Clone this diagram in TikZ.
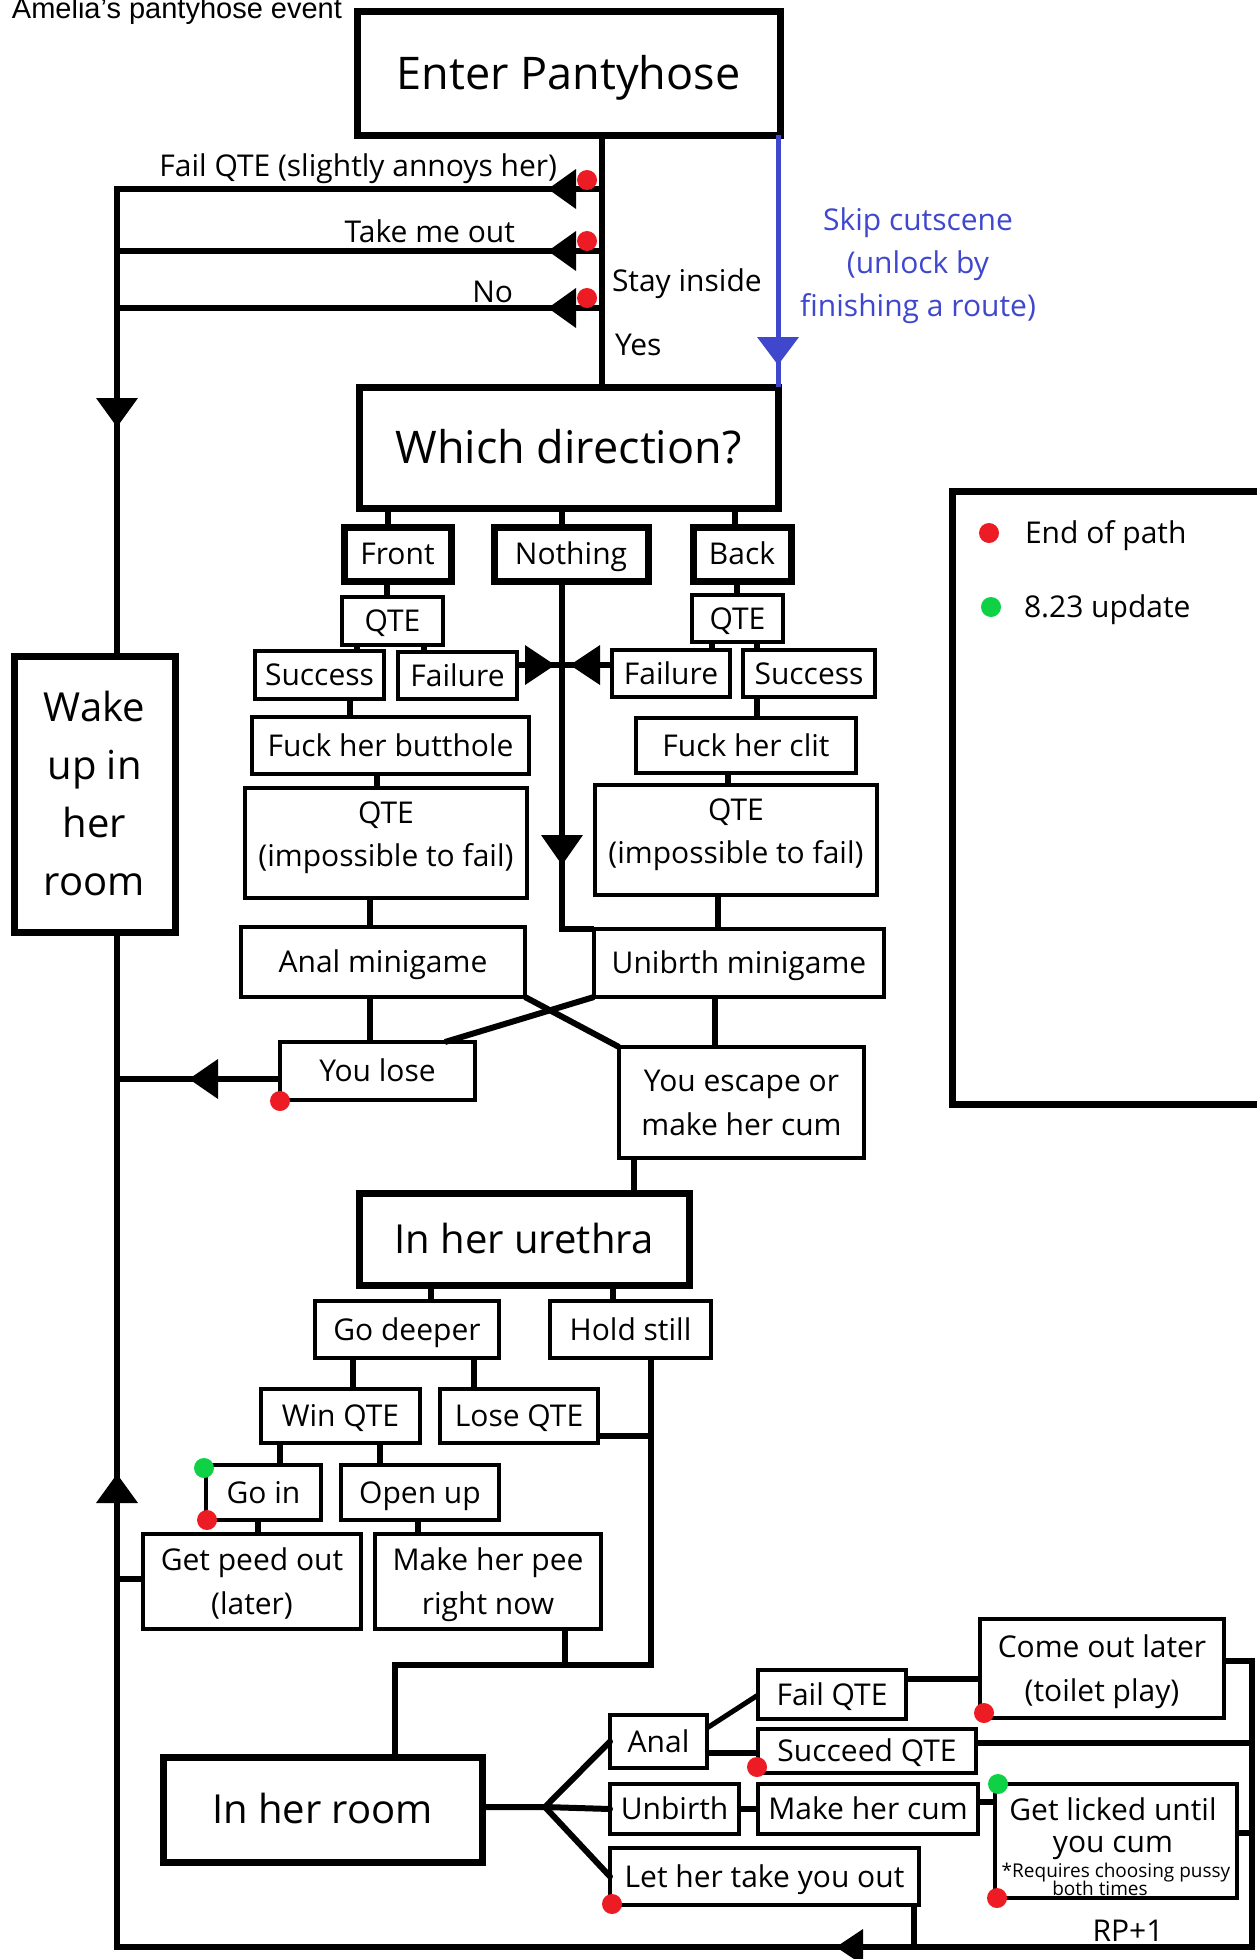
\documentclass[tikz,border=0pt]{standalone}
\usepackage{fontspec}
\setmainfont{Open Sans}
\newfontfamily\titlefont{Liberation Sans}
\usetikzlibrary{calc}
\definecolor{dotred}{HTML}{ED1C24}
\definecolor{dotgreen}{HTML}{0ED145}
\definecolor{skipblue}{HTML}{3F48CC}
\newcommand{\bx}[7]{\node[#6, minimum width={(#4)-(#2)}, minimum height={(#5)-(#3)}] (#1) at ({((#2)+(#4))/2},{((#3)+(#5))/2}) {#7};}
\tikzset{
  box/.style={draw, line width=4pt, fill=white, inner sep=0pt, outer sep=0pt, align=center,
              text height=21.4pt, text depth=0pt, font=\fontsize{30}{44}\selectfont},
  tbox/.style={box, line width=7pt},
  f45/.style={font=\fontsize{45}{54}\selectfont, text height=32pt},
  f40/.style={font=\fontsize{40}{58}\selectfont, text height=28.6pt},
  two/.style={text height=65.4pt},
  ln/.style={line width=6pt},
  thin ln/.style={line width=5pt},
  lbl/.style={inner sep=0pt, outer sep=0pt, font=\fontsize{30}{44}\selectfont},
  ctr/.style={lbl, align=center, text height=21.4pt, text depth=0pt},
  dotr/.style={fill=dotred},
  dotg/.style={fill=dotgreen},
  tri/.style={fill=black},
}
\begin{document}
\begin{tikzpicture}[x=1pt, y=-1pt]
\path[use as bounding box, fill=white] (0,0) rectangle (1256,1959);

% ---------- boxes ----------
\bx{ep}{357}{12}{780}{135}{tbox, f45}{Enter Pantyhose}
\bx{wd}{359}{387}{778}{508}{tbox, f45}{Which direction?}
\bx{wk}{14}{656}{175}{932}{tbox, f40, text height=202.6pt}{Wake\\up in\\her\\room}
\bx{fr}{344}{527}{451}{581}{tbox}{Front}
\bx{nt}{494}{527}{648}{581}{tbox}{Nothing}
\bx{bk}{693}{527}{791}{581}{tbox}{Back}
\bx{q1}{342}{597}{443}{645}{box}{QTE}
\bx{q2}{692}{595}{783}{642}{box}{QTE}
\bx{s1}{255}{651}{384}{699}{box}{Success}
\bx{f1}{398}{652}{517}{699}{box}{Failure}
\bx{f2}{612}{650}{730}{697}{box}{Failure}
\bx{s2}{743}{650}{875}{697}{box}{Success}
\bx{fb}{252}{717}{529}{774}{box}{Fuck her butthole}
\bx{fc}{636}{718}{856}{773}{box}{Fuck her clit}
\bx{qa}{245}{788}{527}{898}{box}{}
\bx{qb}{595}{785}{877}{895}{box}{}
\bx{am}{241}{927}{525}{997}{box}{Anal minigame}
\bx{um}{594}{929}{884}{997}{box}{Unibrth minigame}
\bx{yl}{280}{1042}{475}{1100}{box}{You lose}
\bx{ye}{619}{1047}{864}{1158}{box, two}{You escape or\\make her cum}
\bx{ur}{359}{1193}{689}{1285}{tbox, f40}{In her urethra}
\bx{gd}{315}{1301}{499}{1358}{box}{Go deeper}
\bx{hs}{550}{1301}{711}{1358}{box}{Hold still}
\bx{wq}{261}{1389}{420}{1443}{box}{Win QTE}
\bx{lq}{440}{1389}{598}{1443}{box}{Lose QTE}
\bx{gi}{206}{1465}{321}{1520}{box}{Go in}
\bx{ou}{341}{1465}{499}{1520}{box}{Open up}
\bx{gp}{143}{1534}{361}{1629}{box, two}{Get peed out\\(later)}
\bx{mp}{375}{1534}{601}{1629}{box, two}{Make her pee\\right now}
\bx{ir}{163}{1757}{482}{1862}{tbox, f40}{In her room}
\bx{an}{610}{1715}{707}{1768}{box}{Anal}
\bx{fq}{758}{1670}{906}{1719}{box}{Fail QTE}
\bx{sq}{758}{1729}{976}{1773}{box}{Succeed QTE}
\bx{cl}{980}{1619}{1224}{1718}{box, two}{Come out later\\(toilet play)}
\bx{ub}{610}{1784}{739}{1834}{box}{Unbirth}
\bx{mc}{758}{1784}{978}{1834}{box}{Make her cum}
\bx{gl}{995}{1784}{1237}{1898}{box}{}
\bx{lh}{610}{1848}{919}{1905}{box}{Let her take you out}
\bx{lg}{952}{491}{1272}{1104}{tbox}{}

% ---------- texts ----------
\node[lbl, anchor=base west, font=\titlefont\fontsize{29}{34}\selectfont] (title) at (12,19) {Amelia’s pantyhose event};
\node[lbl, anchor=base east] (t1) at (557,176) {Fail QTE (slightly annoys her)};
\node[lbl, anchor=base east] (t2) at (515,242) {Take me out};
\node[lbl, anchor=base east] (t3) at (513,302) {No};
\node[lbl, anchor=base west] (t4) at (612,291) {Stay inside};
\node[lbl, anchor=base west] (t5) at (615,355) {Yes};
\node[ctr, text=skipblue, font=\fontsize{30}{43}\selectfont, text height=107.4pt] (skip) at (918,263) {Skip cutscene\\(unlock by\\finishing a route)};
\node[ctr, font=\fontsize{30}{43}\selectfont, text height=64.4pt] (qat) at (386,834) {QTE\\(impossible to fail)};
\node[ctr, font=\fontsize{30}{43}\selectfont, text height=64.4pt] (qbt) at (736,831) {QTE\\(impossible to fail)};
\node[ctr, font=\fontsize{30}{32}\selectfont, text height=53.4pt] (glt) at (1113,1826) {Get licked until\\you cum};
\node[lbl, anchor=base, font=\fontsize{19}{18}\selectfont] (gln1) at (1116,1877) {*Requires choosing pussy};
\node[lbl, anchor=base, font=\fontsize{19}{18}\selectfont] (gln2) at (1100,1895) {both times};
\node[lbl, anchor=base] (rp) at (1128,1941) {RP+1};
\node[ctr, anchor=west] (le1) at (1025,533) {End of path};
\node[ctr, anchor=west] (le2) at (1024,607) {8.23 update};

% ---------- connectors: top ----------
\draw[ln] (602,0 |- ep.south) -- (602,0 |- wd.north);
\draw[ln, skipblue, line width=5pt] (778,0 |- ep.south) -- (778,0 |- wd.north);
\coordinate (L1) at (117,189);
\draw[ln] (602,189) -- (L1) -- (117,0 |- wk.north);
\draw[ln] (602,251) -- (117,251);
\draw[ln] (602,308) -- (117,308);
\coordinate (BL) at (117,1947);
\coordinate (BR) at (1252,1947);
\draw[ln] (117,0 |- wk.south) -- (BL) -- (BR) -- (1252,1661) -- (cl.east |- 0,1661);
\draw[ln] (sq.east |- 0,1743) -- (1252,1743);
\draw[ln] (gl.east |- 0,1833) -- (1252,1833);
\draw[ln] (914,0 |- lh.south) -- (914,1947);

% ---------- direction tree ----------
\draw[ln] (388,0 |- wd.south) -- (388,0 |- fr.north);
\draw[ln] (562,0 |- wd.south) -- (562,0 |- nt.north);
\draw[ln] (735,0 |- wd.south) -- (735,0 |- bk.north);
\draw[ln] (387,0 |- fr.south) -- (387,0 |- q1.north);
\draw[ln] (737,0 |- bk.south) -- (737,0 |- q2.north);
\draw[ln] (357,0 |- q1.south) -- (357,0 |- s1.north);
\draw[ln] (424,0 |- q1.south) -- (424,0 |- f1.north);
\draw[ln] (712,0 |- q2.south) -- (712,0 |- f2.north);
\draw[ln] (757,0 |- q2.south) -- (757,0 |- s2.north);
\draw[ln] (f1.east |- 0,665) -- (562,665);
\draw[ln] (f2.west |- 0,665) -- (562,665);
\draw[ln] (350,0 |- s1.south) -- (350,0 |- fb.north);
\draw[ln] (757,0 |- s2.south) -- (757,0 |- fc.north);
\draw[ln] (377,0 |- fb.south) -- (377,0 |- qa.north);
\draw[ln] (728,0 |- fc.south) -- (728,0 |- qb.north);
\draw[ln] (370,0 |- qa.south) -- (370,0 |- am.north);
\draw[ln] (718,0 |- qb.south) -- (718,0 |- um.north);
\draw[ln, line join=miter] (562,0 |- nt.south) -- (562,0 |- um.north) -- (um.north west);
\draw[ln] (370,0 |- am.south) -- (370,0 |- yl.north);
\draw[ln] (um.south west) -- (445,0 |- yl.north);
\draw[ln] (am.south east) -- (ye.north west);
\draw[ln] (715,0 |- um.south) -- (715,0 |- ye.north);
\draw[ln] (yl.west |- 0,1079) -- (117,1079);
\draw[ln] (634,0 |- ye.south) -- (634,0 |- ur.north);

% ---------- urethra tree ----------
\draw[ln] (431,0 |- ur.south) -- (431,0 |- gd.north);
\draw[ln] (613,0 |- ur.south) -- (613,0 |- hs.north);
\draw[ln] (353,0 |- gd.south) -- (353,0 |- wq.north);
\draw[ln] (474,0 |- gd.south) -- (474,0 |- lq.north);
\draw[ln] (651,0 |- hs.south) -- (651,1665) -- (395,1665) -- (395,0 |- ir.north);
\draw[ln] (lq.east |- 0,1436) -- (651,1436);
\draw[ln] (565,0 |- mp.south) -- (565,1665);
\draw[ln] (280,0 |- wq.south) -- (280,0 |- gi.north);
\draw[ln] (380,0 |- wq.south) -- (380,0 |- ou.north);
\draw[ln] (258,0 |- gi.south) -- (258,0 |- gp.north);
\draw[ln] (418,0 |- ou.south) -- (418,0 |- mp.north);
\draw[ln] (gp.west |- 0,1579) -- (117,1579);

% ---------- room tree ----------
\coordinate (J) at (545,1807);
\draw[ln, line cap=round] (ir.east |- J) -- (J) -- (an.west);
\draw[ln, line cap=round] (J) -- (ub.west);
\draw[ln, line cap=round] (J) -- (lh.west);
\draw[thin ln] (an.east |- 0,1728) -- (fq.west |- 0,1695);
\draw[ln] (an.east |- 0,1753) -- (sq.west |- 0,1753);
\draw[ln] (fq.east |- 0,1679) -- (cl.west |- 0,1679);
\draw[ln] (ub.east |- 0,1809) -- (mc.west |- 0,1809);
\draw[ln] (mc.east |- 0,1802) -- (gl.west |- 0,1802);

% ---------- arrowheads ----------
\fill[tri] (548,189) -- (576,169) -- (576,209) -- cycle;
\fill[tri] (548,251) -- (576,231) -- (576,271) -- cycle;
\fill[tri] (548,308) -- (576,288) -- (576,328) -- cycle;
\fill[tri] (117,427) -- (96,398) -- (138,398) -- cycle;
\fill[skipblue] (778,365) -- (757,337) -- (799,337) -- cycle;
\fill[tri] (555,665) -- (525,645) -- (525,685) -- cycle;
\fill[tri] (570,665) -- (600,645) -- (600,685) -- cycle;
\fill[tri] (562,865) -- (541,835) -- (583,835) -- cycle;
\fill[tri] (189,1079) -- (218,1059) -- (218,1099) -- cycle;
\fill[tri] (117,1474) -- (96,1503) -- (138,1503) -- cycle;
\fill[tri] (836,1947) -- (863,1929) -- (863,1965) -- cycle;

% ---------- dots ----------
\foreach \p in {(587,180),(587,241),(587,298),(280,1101),(207,1520),(612,1904),(757,1767),(984,1713),(997,1898),(989,533)}
  \fill[dotr] \p circle (10pt);
\foreach \p in {(204,1468),(998,1784),(991,607)}
  \fill[dotg] \p circle (10pt);
\end{tikzpicture}
\end{document}
